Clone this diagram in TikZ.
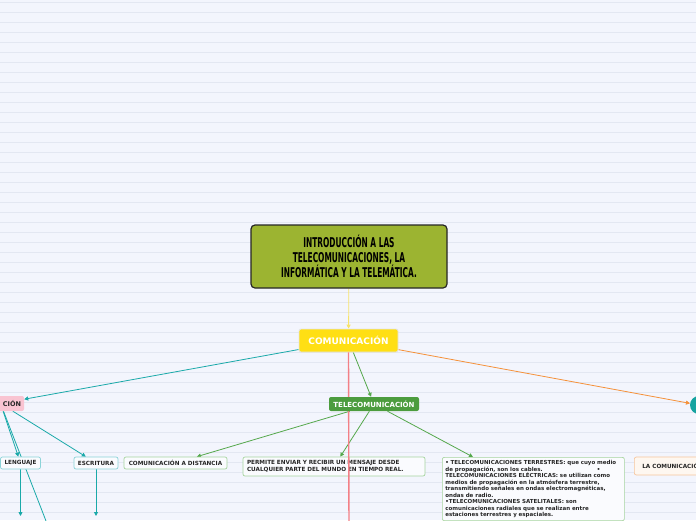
\documentclass[tikz,border=0pt]{standalone}
\usepackage{fontspec}
\setmainfont{DejaVu Sans}
\newfontfamily\titlefont[FakeStretch=0.55]{DejaVu Sans}
\usetikzlibrary{arrows.meta}
\definecolor{bgc}{HTML}{F3F5FD}
\definecolor{gridc}{HTML}{E3E7F2}
\definecolor{olive}{HTML}{9CB431}
\definecolor{yel}{HTML}{FFDF14}
\definecolor{yline}{HTML}{F7E36B}
\definecolor{tgreen}{HTML}{4C9C3E}
\definecolor{gline}{HTML}{55A84C}
\definecolor{gborder}{HTML}{A6D49E}
\definecolor{teal}{HTML}{1AA9A9}
\definecolor{tborder}{HTML}{8AD3D8}
\definecolor{pinkf}{HTML}{F9C4D2}
\definecolor{oline}{HTML}{F5913A}
\definecolor{oborder}{HTML}{F6C59C}
\definecolor{ofill}{HTML}{FEF7F0}
\definecolor{redl}{HTML}{F37F86}
\definecolor{tealc}{HTML}{16A3A0}
\pgfdeclarelayer{grid}
\pgfdeclarelayer{edges}
\pgfsetlayers{grid,edges,main}
\tikzset{
  conn/.style={line width=0.8pt, -{Triangle[length=4pt,width=4pt]}},
  smallbox/.style={rounded corners=2pt, line width=0.7pt, fill=white!60!bgc, font=\fontsize{5.7}{6.5}\selectfont\bfseries, text=black!85, inner xsep=4pt, inner ysep=0pt},
}
\begin{document}
\begin{tikzpicture}[x=1pt,y=-1pt]
\useasboundingbox (0,0) rectangle (696,520);
\begin{pgfonlayer}{grid}
\fill[bgc] (0,0) rectangle (696,520);
\foreach \k in {0,...,51} {\draw[gridc, line width=0.8pt] (0,2+10*\k) -- (696,2+10*\k);}
\end{pgfonlayer}

% nodes
\node[draw=black!85, line width=1.2pt, fill=olive, rounded corners=4pt, minimum width=196pt, minimum height=63pt, align=center, font=\titlefont\bfseries\fontsize{13.5}{15}\selectfont] (title) at (349,256.5) {INTRODUCCIÓN A LAS\\TELECOMUNICACIONES, LA\\INFORMÁTICA Y LA TELEMÁTICA.};
\node[draw=white!80!gray, line width=0.8pt, fill=yel, rounded corners=2pt, minimum width=99pt, minimum height=23pt, text=white, font=\fontsize{9}{10}\selectfont\bfseries] (com) at (348.5,340.5) {COMUNICACIÓN};
\node[fill=pinkf, rounded corners=2pt, text width=41pt, align=right, inner xsep=3pt, minimum height=15pt, inner ysep=0pt, font=\fontsize{6.5}{7}\selectfont\bfseries, text=black!85] (pink) at (0.5,403.5) {CIÓN};
\node[smallbox, draw=tborder, minimum width=40pt, minimum height=12pt] (lengua) at (20.5,463) {LENGUAJE};
\node[smallbox, draw=tborder, minimum width=44pt, minimum height=12pt] (escrit) at (96,463) {ESCRITURA};
\node[smallbox, draw=gborder, minimum width=103pt, minimum height=12pt] (dist) at (175.5,463) {COMUNICACIÓN A DISTANCIA};
\node[smallbox, draw=gborder, minimum width=182pt, minimum height=19pt, text width=174pt, align=left] (permite) at (334,466.5) {PERMITE ENVIAR Y RECIBIR UN MENSAJE DESDE\\CUALQUIER PARTE DEL MUNDO EN TIEMPO REAL.};
\node[smallbox, draw=gborder, anchor=north west, minimum width=182pt, text width=176pt, inner xsep=3pt, align=left, inner ysep=3pt, font=\fontsize{5.5}{6.5}\selectfont\bfseries] (bullets) at (442,457) {\textbullet\ TELECOMUNICACIONES TERRESTRES: que cuyo medio\\de propagación, son los cables.\hspace{54pt}\textbullet\\TELECOMUNICACIONES ELÉCTRICAS: se utilizan como\\medios de propagación en la atmósfera terrestre,\\transmitiendo señales en ondas electromagnéticas,\\ondas de radio.\\\textbullet TELECOMUNICACIONES SATELITALES: son\\comunicaciones radiales que se realizan entre\\estaciones terrestres y espaciales.\\[16pt]};
\node[smallbox, draw=oborder, fill=ofill, anchor=west, minimum height=18pt, inner xsep=8pt] (lacom) at (634,466) {LA COMUNICACIÓN};
\node[circle, fill=tealc, minimum size=18pt, inner sep=0pt] (circ) at (699,405) {};

\coordinate (redend) at (349,530);
\draw[redl, line width=1.4pt] (com.south) -- (redend);
\node[fill=tgreen, rounded corners=2pt, minimum width=90pt, minimum height=14pt, inner ysep=0pt, text=white, font=\fontsize{7}{8}\selectfont\bfseries] (tele) at (374,404) {TELECOMUNICACIÓN};

\coordinate (pdown) at (49.5,530);
\coordinate (lend) at (20.5,516);
\coordinate (eend) at (96,516);

\begin{pgfonlayer}{edges}
\draw[conn, yline] (title) -- (com);
\draw[conn, gline] (com) -- (tele);
\draw[conn, teal] (com) -- (pink);
\draw[conn, oline] (com) -- (circ);
\draw[conn, gline] (tele) -- (dist);
\draw[conn, gline] (tele) -- (permite);
\draw[conn, gline] (tele) -- ([xshift=31pt]bullets.north west);
\draw[conn, teal] (pink) -- (lengua);
\draw[conn, teal] (pink) -- (escrit);
\draw[teal, line width=0.8pt] (pink) -- (pdown);
\draw[conn, teal] (lengua) -- (lend);
\draw[conn, teal] (escrit) -- (eend);
\end{pgfonlayer}
\end{tikzpicture}
\end{document}
